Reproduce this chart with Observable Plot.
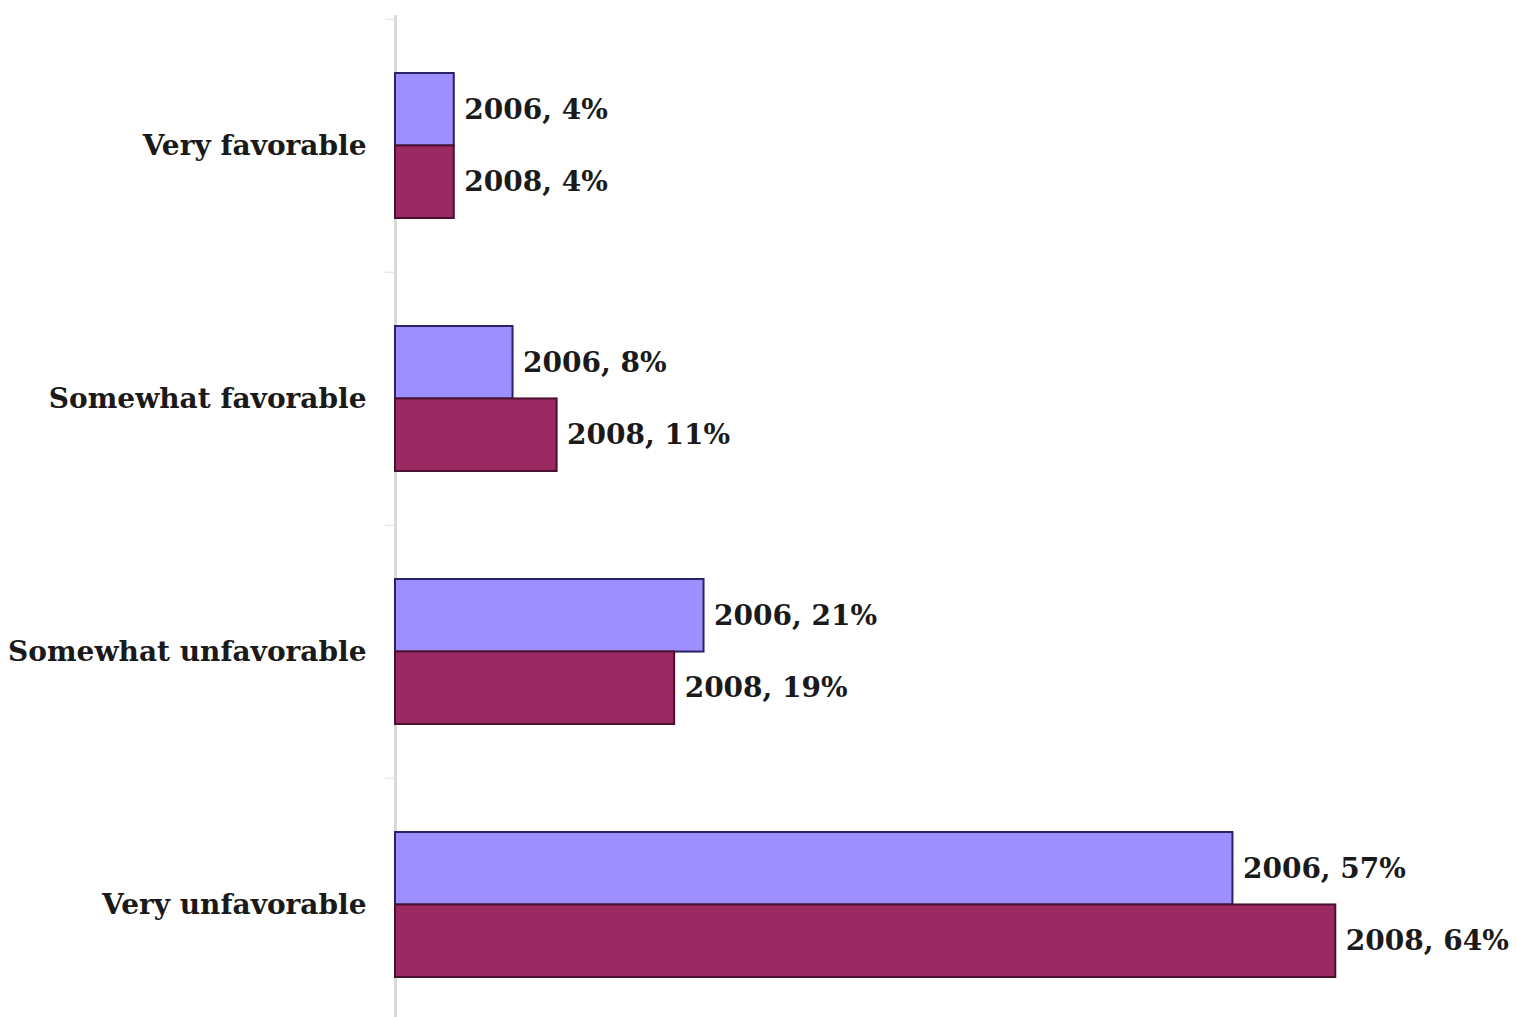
<!DOCTYPE html>
<html>
<head>
<meta charset="utf-8">
<script src="https://cdn.jsdelivr.net/npm/d3@7"></script>
<script src="https://cdn.jsdelivr.net/npm/@observablehq/plot@0.6"></script>
<style>
  html, body { margin: 0; padding: 0; background: #fff; }
  #chart { width: 1516px; height: 1017px; overflow: hidden; }
</style>
</head>
<body>
<div id="chart"></div>
<script>
const categories = ["Very favorable", "Somewhat favorable", "Somewhat unfavorable", "Very unfavorable"];
const years = ["2006", "2008"];
const values2006 = [4, 8, 21, 57];
const values2008 = [4, 11, 19, 64];

const data = [];
categories.forEach((c, i) => {
  data.push({category: c, year: years[0], value: values2006[i]});
  data.push({category: c, year: years[1], value: values2008[i]});
});
const d2006 = data.filter(d => d.year === "2006");
const d2008 = data.filter(d => d.year === "2008");

const rangeTop = 18, rangeBottom = 1032;
const step = (rangeBottom - rangeTop) / categories.length;
const paddingInner = 0.4285;
const half = step * (1 - paddingInner) / 2;
const font = "'DejaVu Serif', serif";
const fs = 28;

const chart = Plot.plot({
  width: 1516,
  height: 1017,
  marginLeft: 395,
  marginRight: 0,
  marginTop: 15,
  marginBottom: 0,
  style: {fontFamily: font, fontWeight: "bold", fontSize: fs + "px", color: "#1a1a1a", background: "#fff"},
  x: {domain: [0, 76.3], axis: null},
  y: {domain: categories, range: [rangeTop, rangeBottom], paddingInner, paddingOuter: paddingInner / 2, axis: null},
  marks: [
    Plot.ruleX([0], {stroke: "#d9d9d9", strokeWidth: 3}),
    Plot.axisY({tickSize: 10, tickFormat: () => "", label: null, dy: -step / 2, stroke: "#e0e0e0"}),
    Plot.axisY({tickSize: 0, tickPadding: 29, label: null, fontSize: fs, fontWeight: "bold", fill: "#1a1a1a"}),
    Plot.barX(d2006, {x: "value", y: "category", fill: "#9d8fff", stroke: "#2b2266", strokeWidth: 2, insetBottom: half}),
    Plot.barX(d2008, {x: "value", y: "category", fill: "#9b2a62", stroke: "#4a1030", strokeWidth: 2, insetTop: half}),
    Plot.text(d2006, {x: "value", y: "category", text: d => `${d.year}, ${d.value}%`, textAnchor: "start", dx: 10, dy: -half / 2, fontSize: fs, fontWeight: "bold", fill: "#1a1a1a"}),
    Plot.text(d2008, {x: "value", y: "category", text: d => `${d.year}, ${d.value}%`, textAnchor: "start", dx: 10, dy: half / 2, fontSize: fs, fontWeight: "bold", fill: "#1a1a1a"})
  ]
});
document.getElementById("chart").appendChild(chart);
</script>
</body>
</html>
